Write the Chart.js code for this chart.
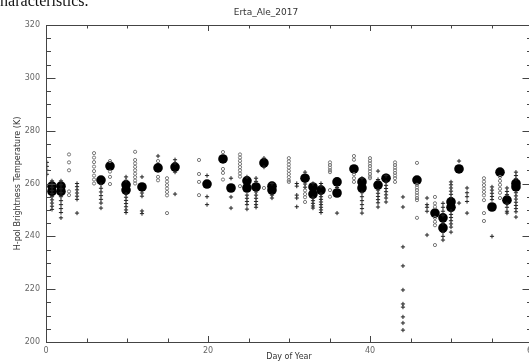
<!DOCTYPE html>
<html>
<head>
<meta charset="utf-8">
<script src="https://cdn.jsdelivr.net/npm/chart.js@4"></script>
<style>
  html, body { margin: 0; padding: 0; background: #fff; overflow: hidden; }
  #wrap { position: relative; width: 529px; height: 363px; overflow: hidden; }
  #cut { position: absolute; left: -7px; top: -8px; font: 16px "Liberation Serif", serif; color: #111; white-space: nowrap; }
  #c { position: absolute; left: 0; top: 0; }
</style>
</head>
<body>
<div id="wrap">
  <canvas id="c" width="540" height="363"></canvas>
  <div id="cut">characteristics.</div>
</div>
<script>
// day of year for each observation column
var days = [0.1, 0.74, 1.85, 2.84, 3.83, 5.93, 6.79, 7.9, 9.88, 11.0, 11.85, 13.83, 14.94, 15.93,
  18.89, 19.88, 21.85, 22.84, 23.95, 24.81, 25.93, 26.91, 27.9, 29.98, 30.96, 31.98, 32.96,
  33.95, 35.06, 35.93, 38.02, 39.01, 40.0, 40.99, 41.98, 43.09, 44.07, 45.8, 47.04, 48.02,
  49.01, 50.0, 50.99, 51.98, 54.07, 55.06, 56.05, 56.91, 58.02];

// individual samples drawn as "+"
var crossTemps = [
  [268, 266.5, 265, 263.5],
  [261, 259.8, 258.6, 257.4, 256.2, 255, 253.8, 252.6, 251.4, 250.2],
  [261, 259.5, 258, 256.5, 255, 253.5, 252, 250.5, 249, 247],
  [],
  [260, 258.8, 257.6, 256.4, 255.2, 254, 248.8],
  [],
  [259.6, 258.2, 256.8, 255.4, 254, 252.6, 250.7],
  [],
  [262.5, 261.2, 256, 254.8, 253.6, 252.4, 251.2, 250, 249],
  [],
  [262.5, 256.4, 255.2, 249.6, 248.6],
  [270.4],
  [],
  [269, 267.8, 264.3, 256],
  [],
  [263, 255, 252],
  [],
  [262, 254.9, 250.7],
  [],
  [262.5, 255.6, 254.4, 253.2, 252, 250.3],
  [262, 260.8, 256.8, 255.6, 254.4, 253.2, 252, 251],
  [269.6, 266.2],
  [260, 255.6, 254.5],
  [],
  [260, 259, 255.6, 254.5, 251.2],
  [264.3, 259.8, 258.6],
  [260, 254.5, 253.5, 252.5, 251.5, 250.7],
  [260, 259, 256, 255, 254, 253, 252, 251, 250, 249],
  [],
  [258.5, 248.8],
  [],
  [262, 256.5, 255, 253.5, 252, 250.5, 248.8],
  [],
  [264.7, 261.5, 257.5, 256.3, 255.1, 253.9, 252.7, 251.1],
  [263, 260.5, 259.3, 258.1, 256.9, 255.7, 254.5, 253],
  [],
  [254.9, 251.1, 236, 228.8, 219.7, 214.4, 213.2, 209.5, 207.2, 204.5],
  [],
  [254.5, 252, 251, 249.5, 240.5],
  [],
  [252.5, 251, 249.5, 248, 245, 241.5, 240, 238.6],
  [260.6, 259.5, 258.3, 257.1, 255.9, 254.7, 249.5, 248.3, 247.1, 245.9, 244.7, 243.5, 241.6],
  [268.5, 252.6],
  [258.3, 256.5, 255, 253.2, 248.8],
  [],
  [258.7, 257.5, 256.3, 255.1, 253.9, 240],
  [],
  [258.3, 257, 255.8, 252.3, 251, 249.5, 248.8],
  [264.3, 263, 261.8, 256.5, 255.3, 254.1, 252.9, 251.7, 250.5, 249.3, 247.3]
];

// individual samples drawn as small open circles
var circleTemps = [
  [], [], [],
  [271, 268, 265, 257, 255.6],
  [],
  [271.5, 269.8, 268.1, 266.4, 264.7, 263, 261.5, 260],
  [],
  [268.5, 264.5, 262.5, 259.8],
  [],
  [272, 268.9, 267.6, 266.3, 265, 263.7, 262.4, 261.1, 260],
  [],
  [268.5, 262.5, 261.2],
  [262, 260.7, 259.4, 258.1, 256.8, 255.5, 248.8],
  [],
  [268.9, 263.6, 260.6, 255.6],
  [],
  [271.9, 265.5, 264, 261.5],
  [],
  [271, 269.8, 268.6, 267.4, 266.2, 265, 263.8, 262.6, 259],
  [], [],
  [258.3],
  [],
  [269.6, 268.4, 267.2, 266, 264.8, 263.6, 262.4, 261.2, 260.6],
  [],
  [257.4, 256, 254.8, 253],
  [], [],
  [268, 267, 266, 265, 264.3, 257.5, 255],
  [],
  [270.4, 269, 263.5, 262, 260.6],
  [],
  [269.6, 268.6, 267.6, 266.6, 265.6, 264.6, 263.6, 262.6, 262],
  [], [],
  [268, 267, 266, 265, 264, 263, 262, 260.6],
  [],
  [267.8, 259.5, 258.5, 257.5, 256.5, 255.5, 254.5, 253.7, 247],
  [],
  [254.9, 252.5, 251.2, 247, 245.5, 244.2, 236.7],
  [], [], [], [],
  [262, 260.7, 259.4, 258.1, 256.8, 255.5, 253.7, 248.8, 245.8],
  [],
  [262.5, 261, 259.5, 258, 256.5, 254.5],
  [], []
];

// daily means, big filled dots
var meanTemps = [
  [], [259, 257], [259, 257], [], [], [], [261.3], [266.6], [259.5, 257.5], [], [258.7], [265.9], [], [266.2],
  [], [259.8], [269.3], [258.3], [], [261, 258.3], [258.7], [267.8], [259, 257.5], [], [], [262], [258.7, 256],
  [257.5], [], [260.6, 256.4], [265.5], [260.6, 258.3], [], [259.4], [262], [], [], [261.3], [], [248.8],
  [247, 243.2], [253, 251], [265.5], [], [], [251.1], [264.3], [253.7], [260, 258.7]
];

var xTicks = [0, 20, 40, 60];
var yTicks = [200, 220, 240, 260, 280, 300, 320];

function toPoints(cols) {
  var pts = [];
  cols.forEach(function (col, i) {
    col.forEach(function (t) { pts.push({ x: days[i], y: t }); });
  });
  return pts;
}

var axisColor = "#444";
var labelColor = "#666";
var tickFont = { family: "DejaVu Sans", size: 8 };

// IDL style box with inward ticks on all four sides
var boxPlugin = {
  id: "box",
  afterDraw: function (chart) {
    var ctx = chart.ctx;
    var a = chart.chartArea;
    var xs = chart.scales.x, ys = chart.scales.y;
    var h = a.bottom - a.top, w = a.right - a.left;
    ctx.save();
    ctx.strokeStyle = axisColor;
    ctx.lineWidth = 1;
    ctx.strokeRect(Math.round(a.left) + 0.5, Math.round(a.top) + 0.5,
      Math.round(w), Math.round(h));
    ctx.beginPath();
    xs.ticks.forEach(function (t) {
      var px = Math.round(xs.getPixelForValue(t.value)) + 0.5;
      var len = xTicks.indexOf(t.value) >= 0 ? 6 : 3.5;
      ctx.moveTo(px, a.bottom); ctx.lineTo(px, a.bottom - len);
      ctx.moveTo(px, a.top); ctx.lineTo(px, a.top + len);
    });
    ys.ticks.forEach(function (t) {
      var py = Math.round(ys.getPixelForValue(t.value)) + 0.5;
      var len = yTicks.indexOf(t.value) >= 0 ? 9.5 : 5;
      ctx.moveTo(a.left, py); ctx.lineTo(a.left + len, py);
      ctx.moveTo(a.right, py); ctx.lineTo(a.right - len, py);
    });
    ctx.stroke();
    ctx.restore();
  }
};

new Chart(document.getElementById("c"), {
  type: "scatter",
  data: {
    datasets: [
      {
        label: "samples +",
        data: toPoints(crossTemps),
        pointStyle: "cross",
        pointRadius: 2.1,
        borderColor: "#222",
        borderWidth: 1,
      },
      {
        label: "samples o",
        data: toPoints(circleTemps),
        pointStyle: "circle",
        pointRadius: 1.6,
        borderColor: "#777",
        backgroundColor: "rgba(0,0,0,0)",
        borderWidth: 1,
      },
      {
        label: "mean",
        data: toPoints(meanTemps),
        pointStyle: "circle",
        pointRadius: 4.8,
        borderColor: "#000",
        backgroundColor: "#000",
        borderWidth: 0,
      },
    ],
  },
  options: {
    responsive: false,
    animation: false,
    events: [],
    layout: { padding: { left: 0, right: 8, top: 0, bottom: 0 } },
    plugins: {
      legend: { display: false },
      tooltip: { enabled: false },
      title: {
        display: true,
        text: "Erta_Ale_2017",
        color: "#333",
        font: { family: "DejaVu Sans", size: 9, weight: "normal" },
        padding: { top: 7, bottom: 7.2 },
      },
    },
    scales: {
      x: {
        type: "linear",
        min: 0,
        max: 60,
        grid: { display: false, drawTicks: false },
        border: { display: false },
        ticks: {
          stepSize: 5,
          autoSkip: false,
          maxRotation: 0,
          padding: 4,
          color: labelColor,
          font: tickFont,
          callback: function (v) { return xTicks.indexOf(v) >= 0 ? String(v) : ""; },
        },
        title: {
          display: true,
          text: "Day of Year",
          color: "#333",
          font: { family: "DejaVu Sans", size: 8 },
          padding: { top: 0, bottom: 1 },
        },
        afterFit: function (s) { s.height = 21; s.paddingLeft = 0; s.paddingRight = 0; },
      },
      y: {
        min: 200,
        max: 320,
        grid: { display: false, drawTicks: false },
        border: { display: false },
        ticks: {
          stepSize: 5,
          autoSkip: false,
          maxTicksLimit: 100,
          padding: 6,
          color: labelColor,
          font: tickFont,
          callback: function (v) { return yTicks.indexOf(v) >= 0 ? String(v) : ""; },
        },
        title: {
          display: true,
          text: "H-pol Brightness Temperature (K)",
          color: "#333",
          font: { family: "DejaVu Sans", size: 8 },
          padding: { top: 13, bottom: 0 },
        },
        afterFit: function (s) { s.width = 46; s.paddingTop = 0; s.paddingBottom = 0; },
      },
    },
  },
  plugins: [boxPlugin],
});
</script>
</body>
</html>
